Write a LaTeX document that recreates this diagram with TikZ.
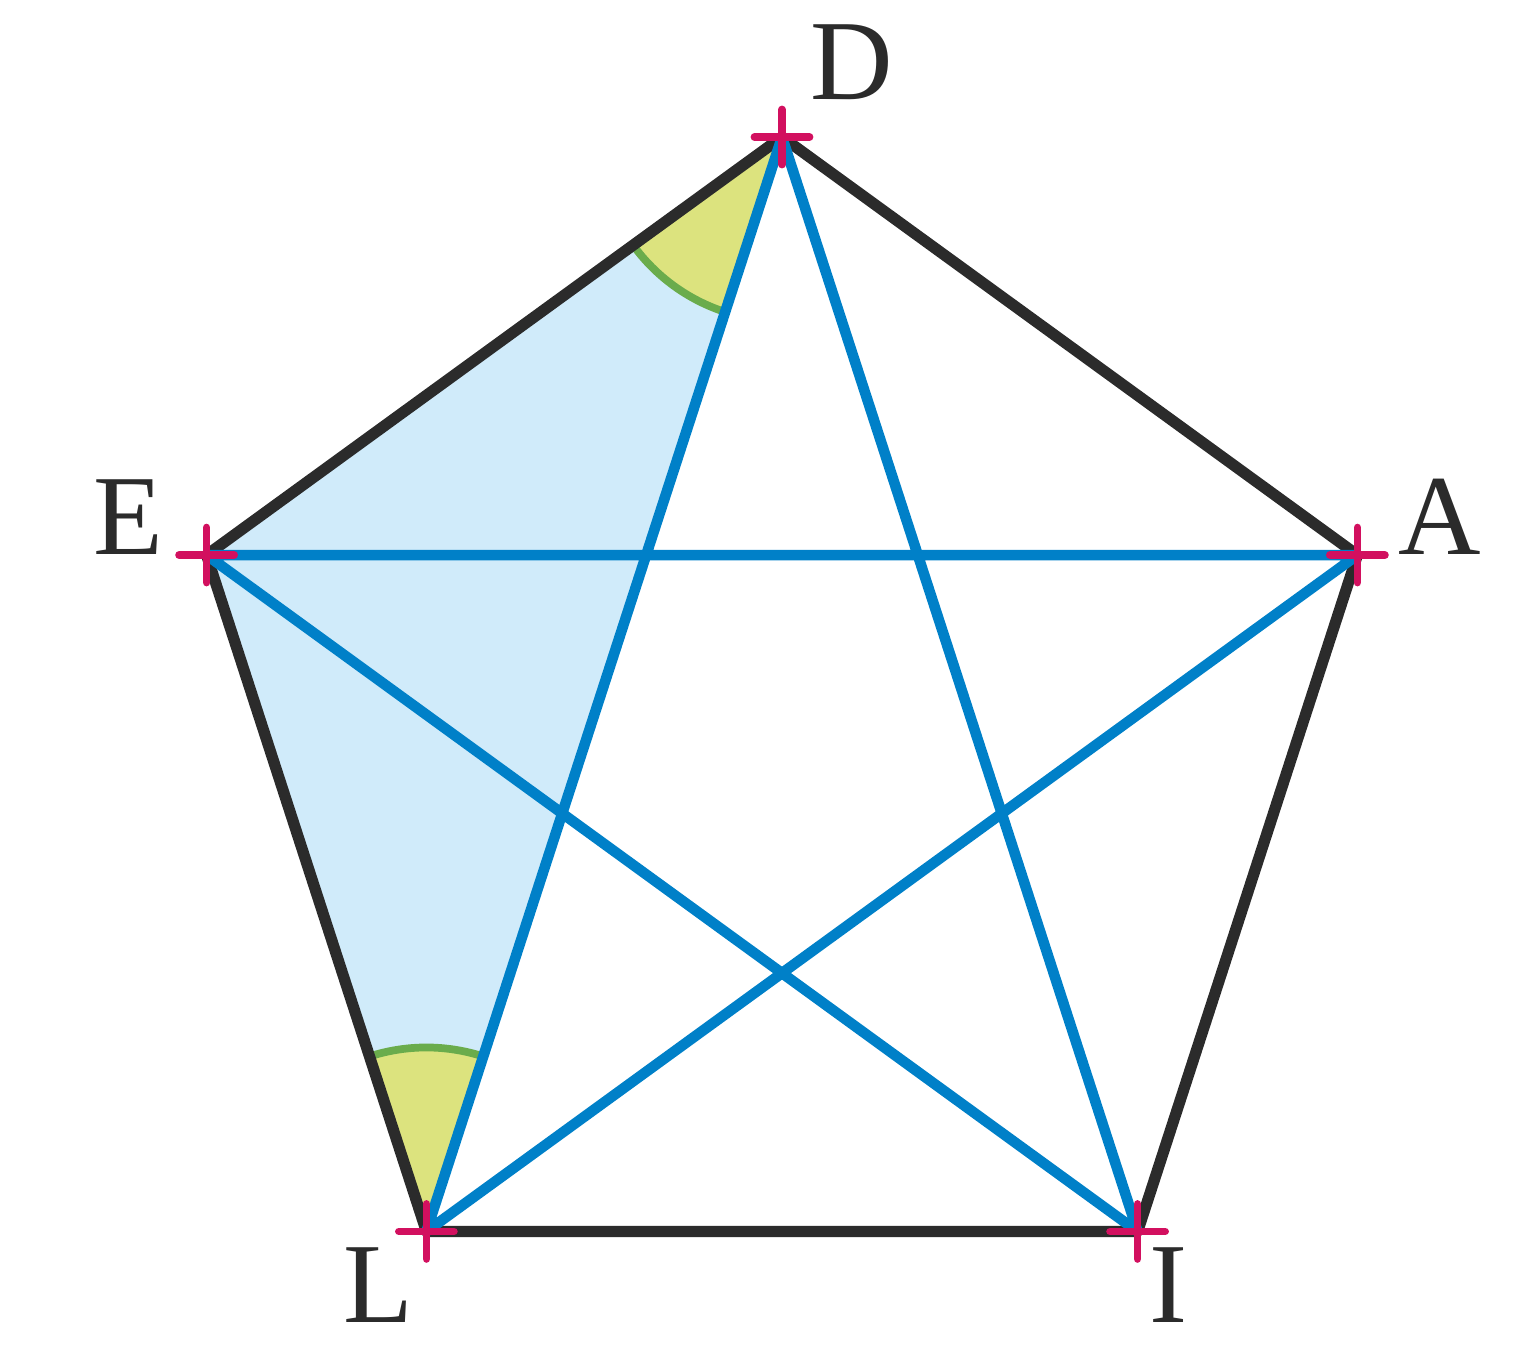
\documentclass[tikz,border=0pt]{standalone}
\usepackage{tikz}
\usepackage{fontspec}
\setmainfont{Liberation Serif}

\definecolor{edgegray}{HTML}{2B2B2B}
\definecolor{diagblue}{HTML}{0080C8}
\definecolor{triblue}{HTML}{D0EBFA}
\definecolor{angyellow}{HTML}{DCE37E}
\definecolor{anggreen}{HTML}{6AAC4C}
\definecolor{crossred}{HTML}{D2105F}

\begin{document}
\begin{tikzpicture}[line join=round]
	\tikzset{edge/.style={edgegray,line width=3.2pt},
		diag/.style={diagblue,line width=3pt},
		angarc/.style={anggreen,line width=2.2pt},
		cross/.style={crossred,line width=2.2pt,line cap=round},
		lab/.style={text=edgegray,font=\fontsize{32.5}{32.5}\selectfont,inner sep=0pt}}
	\useasboundingbox (-7.82,-6.28) rectangle (7.56,7.42);
	
	\coordinate (D) at (90:6.05);
	\coordinate (E) at (162:6.05);
	\coordinate (A) at (18:6.05);
	\coordinate (L) at (234:6.05);
	\coordinate (I) at (306:6.05);
	
	% triangle and angles
	\fill[triblue] (E) -- (D) -- (L) -- cycle;
	\fill[angyellow] (D) -- ++(216:1.84) arc[start angle=216,end angle=252,radius=1.84] -- cycle;
	\fill[angyellow] (L) -- ++(72:1.84) arc[start angle=72,end angle=108,radius=1.84] -- cycle;
	\draw[angarc] (D) ++(216:1.84) arc[start angle=216,end angle=252,radius=1.84];
	\draw[angarc] (L) ++(72:1.84) arc[start angle=72,end angle=108,radius=1.84];
	
	\draw[edge] (D) -- (A) -- (I) -- (L) -- (E) -- cycle;
	\draw[diag] (D) -- (L) (D) -- (I) (E) -- (A) (E) -- (I) (L) -- (A);
	
	\foreach \p in {D,E,A,L,I}
	\draw[cross] (\p) ++(-0.275,0) -- ++(0.55,0) (\p) ++(0,-0.275) -- ++(0,0.55);
	
	\node[lab] (labD) at (0.70,6.80) {D};
	\node[lab] (labE) at (-6.54,2.25) {E};
	\node[lab] (labA) at (6.58,2.25) {A};
	\node[lab] (labL) at (-4.04,-5.43) {L};
	\node[lab] (labI) at (3.87,-5.43) {I};
\end{tikzpicture}
\end{document}
